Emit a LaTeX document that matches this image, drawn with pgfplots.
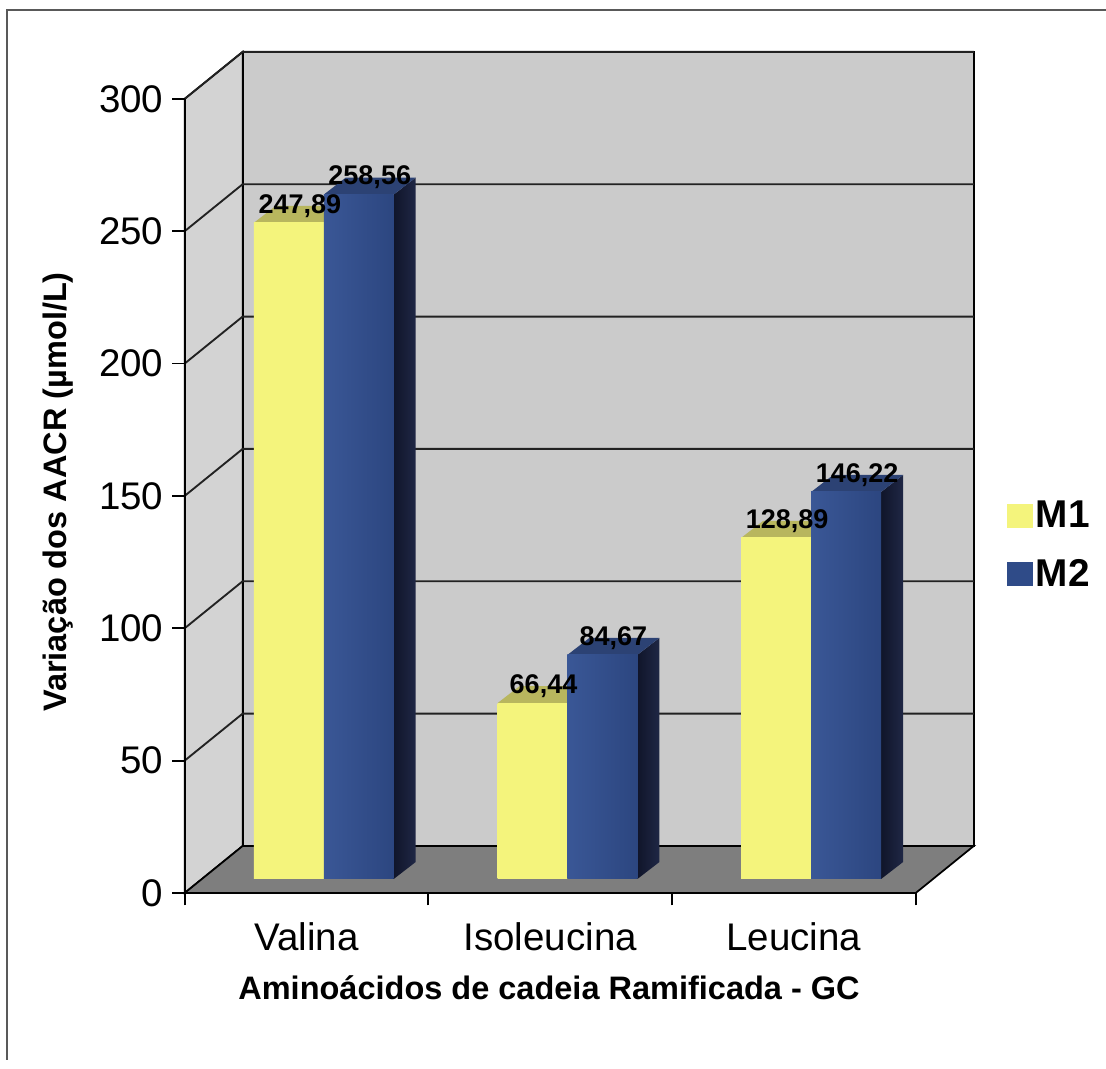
\documentclass[border=0pt]{standalone}
\usepackage{fontspec}
\setmainfont{Liberation Sans}
\usepackage{pgfplots}
\usepackage{pgfplotstable}
\pgfplotsset{compat=1.18}

\definecolor{yfront}{HTML}{F4F47C}
\definecolor{ytop}{HTML}{B8B65E}
\definecolor{yside}{HTML}{8C8A3A}
\definecolor{bfrontL}{HTML}{3A5796}
\definecolor{bfrontR}{HTML}{2C4680}
\definecolor{bfront}{HTML}{2F4B88}
\definecolor{btop}{HTML}{2C4274}
\definecolor{bsideL}{HTML}{10152A}
\definecolor{bsideR}{HTML}{1F2745}
\definecolor{wallback}{HTML}{CBCBCB}
\definecolor{wallleft}{HTML}{D3D3D3}
\definecolor{floorgray}{HTML}{7E7E7E}
\definecolor{gridgray}{HTML}{222222}

% AACR values per amino acid (M1, M2)
\pgfplotstableread{
idx  M1      M2
0    247.89  258.56
1    66.44   84.67
2    128.89  146.22
}\aacr

% depth of the chart box and of the bars, in axis units
\def\fx{0.0709}\def\fy{5.29}   % front face of the bars, seen behind the floor edge
\def\dx{0.0903}\def\dy{6.42}   % bar depth
\def\bw{0.287}                 % bar width

\tikzset{vlabel/.style={font=\bfseries\fontsize{10.8}{12}\selectfont, inner sep=0pt, anchor=center}}

% one extruded bar: #1 left edge of the front face, #2 value,
% #3/#4 front shading colours, #5 top colour, #6/#7 side shading colours
\newcommand\threedbar[7]{%
  \pgfmathsetmacro\xa{#1}%
  \pgfmathsetmacro\xb{#1+\bw}%
  \pgfmathsetmacro\xc{#1+\bw+\dx}%
  \pgfmathsetmacro\xd{#1+\dx}%
  \pgfmathsetmacro\ya{\fy}%
  \pgfmathsetmacro\yb{\fy+#2}%
  \pgfmathsetmacro\yc{\fy+\dy+#2}%
  \pgfmathsetmacro\yd{\fy+\dy}%
  \edef\doit{%
    \noexpand\addplot[forget plot, draw=none, left color=#6, right color=#7]
      coordinates {(\xb,\ya) (\xc,\yd) (\xc,\yc) (\xb,\yb)};
    \noexpand\addplot[forget plot, draw=none, fill=#5]
      coordinates {(\xa,\yb) (\xb,\yb) (\xc,\yc) (\xd,\yc)};
    \noexpand\addplot[forget plot, draw=none, left color=#3, right color=#4]
      coordinates {(\xa,\ya) (\xb,\ya) (\xb,\yb) (\xa,\yb)};
  }\doit}

% value label centred over the top face of a bar: #1 left edge, #2 value
\newcommand\barlabel[2]{%
  \pgfmathsetmacro\xm{#1+0.5*\bw+0.5*\dx}%
  \pgfmathsetmacro\yc{\fy+\dy+#2}%
  \edef\doit{%
    \noexpand\node[vlabel] at (axis cs:\xm,\yc)
      {\noexpand\pgfmathprintnumber[fixed, precision=2, fixed zerofill, use comma]{#2}};
  }\doit}

\begin{document}
\begin{tikzpicture}
\draw[color=black!65, line width=0.8pt] (2.8pt,3.6pt) -- (2.8pt,423.6pt) -- (442.4pt,423.6pt);
\begin{axis}[
  at={(73.86pt,70.4pt)}, anchor=south west,
  x=97.48pt, y=1.0588pt,
  xmin=-0.5, xmax=2.5, ymin=0, ymax=300,
  enlargelimits=false, clip=false, axis on top,
  axis x line*=bottom, axis y line*=left,
  axis line style={black, line width=0.7pt},
  /pgf/number format/assume math mode=true,
  ytick={0,50,...,300},
  xtick={-0.5,0.5,1.5,2.5}, xticklabels={,,,},
  extra x ticks={0,1,2}, extra x tick labels={Valina, Isoleucina, Leucina},
  extra x tick style={major tick length=0pt, tick label style={yshift=-8.4pt}},
  tick align=outside,
  major tick length=5pt,
  tick style={black, line width=0.7pt},
  tick label style={font=\fontsize{15.4}{18}\selectfont},
  ylabel={Variação dos AACR (µmol/L)},
  xlabel={Aminoácidos de cadeia Ramificada - GC},
  every axis y label/.style={at={(axis description cs:-0.1732,0.505)}, rotate=90, anchor=center,
    font=\bfseries\fontsize{13}{15}\selectfont},
  every axis x label/.style={at={(axis description cs:0.4984,-0.1196)}, anchor=center,
    font=\bfseries\fontsize{13}{15}\selectfont},
  legend style={at={(axis description cs:1.1135,0.438)}, anchor=west,
    draw=none, fill=none, font=\bfseries\fontsize{15.5}{17}\selectfont,
    row sep=8.8pt, nodes={inner sep=1.2pt}},
  legend cell align=left,
]
% left side wall
\addplot[forget plot, fill=wallleft, draw=black, line width=0.7pt]
  coordinates {(-0.5,0) (-0.5,300) (-0.262,317.76) (-0.262,17.76)} -- cycle;
% back wall
\addplot[forget plot, fill=wallback, draw=black, line width=0.7pt]
  coordinates {(-0.262,17.76) (-0.262,317.76) (2.738,317.76) (2.738,17.76)} -- cycle;
% grid lines along the side wall and the back wall
\addplot[forget plot, gridgray, line width=0.75pt] coordinates {(-0.5,50) (-0.262,67.76) (2.738,67.76)};
\addplot[forget plot, gridgray, line width=0.75pt] coordinates {(-0.5,100) (-0.262,117.76) (2.738,117.76)};
\addplot[forget plot, gridgray, line width=0.75pt] coordinates {(-0.5,150) (-0.262,167.76) (2.738,167.76)};
\addplot[forget plot, gridgray, line width=0.75pt] coordinates {(-0.5,200) (-0.262,217.76) (2.738,217.76)};
\addplot[forget plot, gridgray, line width=0.75pt] coordinates {(-0.5,250) (-0.262,267.76) (2.738,267.76)};
\addplot[forget plot, gridgray, line width=0.75pt] coordinates {(-0.5,300) (-0.262,317.76) (2.738,317.76)};
% floor
\addplot[forget plot, fill=floorgray, draw=black, line width=0.7pt]
  coordinates {(-0.5,0) (2.5,0) (2.738,17.76) (-0.262,17.76)} -- cycle;
% bars
\pgfplotsinvokeforeach{0,1,2}{
  \pgfplotstablegetelem{#1}{M1}\of\aacr \let\va\pgfplotsretval
  \pgfplotstablegetelem{#1}{M2}\of\aacr \let\vb\pgfplotsretval
  \threedbar{#1+\fx-\bw}{\va}{yfront}{yfront}{ytop}{yside}{yside}
  \threedbar{#1+\fx}{\vb}{bfrontL}{bfrontR}{btop}{bsideL}{bsideR}
}
% value labels, drawn above every bar
\pgfplotsinvokeforeach{0,1,2}{
  \pgfplotstablegetelem{#1}{M1}\of\aacr \let\va\pgfplotsretval
  \pgfplotstablegetelem{#1}{M2}\of\aacr \let\vb\pgfplotsretval
  \barlabel{#1+\fx-\bw}{\va}
  \barlabel{#1+\fx}{\vb}
}
\addlegendimage{legend image code/.code={\fill[yfront] (0pt,-4.6pt) rectangle (10pt,4.6pt);}}
\addlegendentry{M1}
\addlegendimage{legend image code/.code={\fill[bfront] (0pt,-4.6pt) rectangle (10pt,4.6pt);}}
\addlegendentry{M2}
\end{axis}
\pgfresetboundingbox
\useasboundingbox (0,0) rectangle (442.4pt,427.6pt);
\end{tikzpicture}
\end{document}
